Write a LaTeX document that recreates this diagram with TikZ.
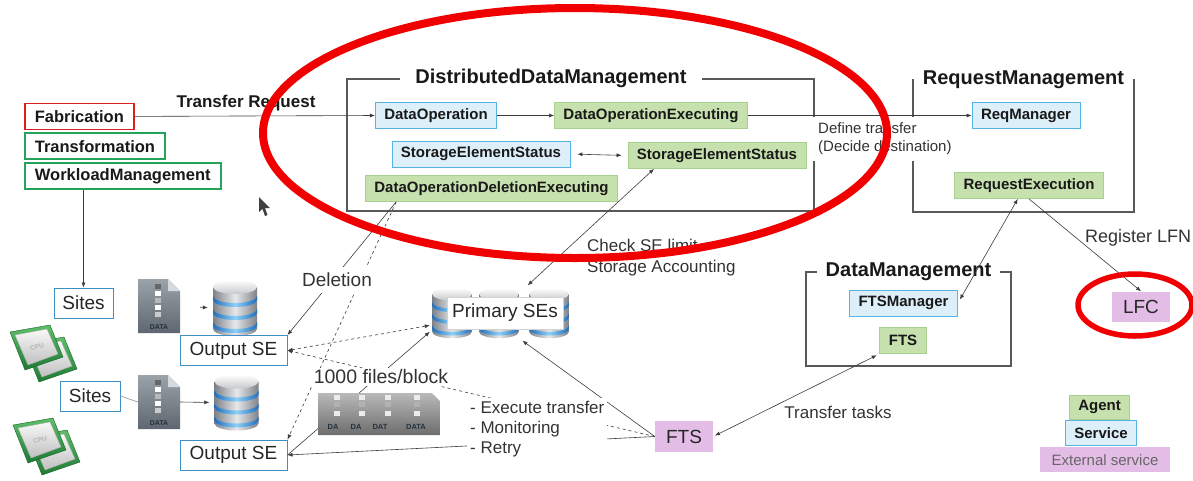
\documentclass[tikz,border=0pt]{standalone}
\usepackage{fontspec}
\setmainfont{Liberation Sans}
\usepackage{xcolor}
\usetikzlibrary{arrows.meta,positioning}

\definecolor{svcfill}{HTML}{DDEFF9}
\definecolor{svcline}{HTML}{56B4E3}
\definecolor{agfill}{HTML}{C6E0AE}
\definecolor{agline}{HTML}{A9D18E}
\definecolor{extfill}{HTML}{E3BDE6}
\definecolor{siteline}{HTML}{3F8FC6}
\definecolor{fabred}{HTML}{D82020}
\definecolor{wmsgreen}{HTML}{25A35A}
\definecolor{frameline}{HTML}{595959}
\definecolor{connline}{HTML}{3C3C3C}
\definecolor{lbltext}{HTML}{333333}
\definecolor{annotred}{HTML}{F00000}
\definecolor{filetop}{HTML}{9AA2AA}
\definecolor{filebot}{HTML}{5E666F}
\definecolor{filefold}{HTML}{D6DADE}
\definecolor{datatext}{HTML}{24313D}
\definecolor{dbedge}{HTML}{7E8288}
\definecolor{dbmid}{HTML}{E6E8EA}
\definecolor{dbblue}{HTML}{1F6FBF}
\definecolor{dbsky}{HTML}{8FD0F5}
\definecolor{cpulight}{HTML}{5FBF6A}
\definecolor{cpudark}{HTML}{1E7A34}

\begin{document}
\begin{tikzpicture}[x=1pt, y=-1pt, >={Latex[length=5pt,width=4pt]},
  svc/.style={draw=svcline, fill=svcfill, line width=0.8pt, text=black!90,
    font=\bfseries\fontsize{15}{18}\selectfont, inner xsep=9pt, inner ysep=0pt, minimum height=26pt},
  agent/.style={svc, draw=agline, fill=agfill},
  extsvc/.style={fill=extfill, text=black!85, font=\fontsize{19}{22}\selectfont,
    minimum width=58pt, minimum height=30pt},
  caller/.style={line width=1.8pt, fill=white, text=black!90, font=\bfseries\fontsize{16.5}{20}\selectfont,
    inner xsep=10pt, inner ysep=0pt, minimum height=26pt},
  sitebox/.style={draw=siteline, line width=1pt, fill=white, text=black!85,
    font=\fontsize{19}{22}\selectfont, minimum height=30pt},
  frame/.style={draw=frameline, line width=1.3pt, inner sep=0pt},
  frametitle/.style={fill=white, text=black!90, font=\bfseries\fontsize{20}{24}\selectfont,
    inner xsep=9pt, inner ysep=1pt},
  lbl/.style={text=lbltext, font=\fontsize{17}{20}\selectfont, inner sep=2pt},
  conn/.style={draw=connline, line width=0.6pt},
  datafile/.pic={
    \shade[top color=filetop, bottom color=filebot]
      (-21,-27) -- (9,-27) -- (21,-15) -- (21,27) -- (-21,27) -- cycle;
    \fill[filefold] (9,-27) -- (9,-15) -- (21,-15) -- cycle;
    \foreach \yy/\cc in {-22/gray!80!black, -15/white, -8/gray!55, -1/white, 6/gray!40}
      \fill[\cc] (-4,\yy) rectangle ++(6,5);
    \node[font=\bfseries\fontsize{7}{8}\selectfont, text=datatext] (-lbl) at (0,21) {DATA};
  },
  dbcyl/.pic={
    \shade[left color=dbedge, right color=dbedge, middle color=dbmid]
      (-22,-21) -- (-22,21) arc[start angle=180, end angle=0, x radius=22, y radius=7] -- (22,-21) -- cycle;
    \foreach \yy in {-12,1,14}
      \shade[left color=dbblue, right color=dbblue, middle color=dbsky]
        (-22,\yy) -- (-22,\yy+4) arc[start angle=180, end angle=0, x radius=22, y radius=7]
        -- (22,\yy) arc[start angle=0, end angle=180, x radius=22, y radius=7] -- cycle;
    \shade[top color=white, bottom color=dbmid!70!gray] (0,-21) ellipse[x radius=22, y radius=7];
  },
  cpuchip/.pic={
    \shade[top color=cpulight, bottom color=cpudark, draw=cpudark!80!black, line width=0.4pt]
      (-27,-14) -- (13,-21) -- (26,11) -- (-12,24) -- cycle;
    \shade[top color=gray!5, bottom color=gray!50, draw=gray!65]
      (-22,-11) -- (10,-17) -- (21,8) -- (-9,19) -- cycle;
    \node[rotate=10, font=\bfseries\fontsize{6.5}{7}\selectfont, text=gray!60] (-lbl) at (0,1) {CPU};
  }]

\useasboundingbox (0,0) rectangle (1193,480);
\fill[white] (0,0) rectangle (1193,480);

% component frames
\node[frame, minimum width=467pt, minimum height=132pt] (ddm) at (580.5,145) {};
\node[frame, minimum width=221pt, minimum height=132pt] (rm) at (1023.5,146) {};
\node[frame, minimum width=205pt, minimum height=94pt] (dm) at (908.5,319) {};
\node[frametitle, inner xsep=15pt] (ddmtitle) at ([xshift=-29.5pt]ddm.north) {DistributedDataManagement};
\node[frametitle] (rmtitle) at (rm.north) {RequestManagement};
\node[frametitle] (dmtitle) at (dm.north) {DataManagement};

% systems
\node[caller, draw=fabred, anchor=north west] (fab) at (24,102.5) {Fabrication};
\node[caller, draw=wmsgreen, below right=2pt and 0pt of fab.south west] (trans) {Transformation};
\node[caller, draw=wmsgreen, below right=2pt and 0pt of trans.south west] (wl) {WorkloadManagement};
\node[font=\bfseries\fontsize{17}{20}\selectfont, text=black!90] (treq) at (246,103) {Transfer Request};

\node[svc] (dop) at (436,115.5) {DataOperation};
\node[agent] (doe) at (651,115.5) {DataOperationExecuting};
\node[svc] (sesB) at (481,154) {StorageElementStatus};
\node[agent] (sesG) at (717,155.5) {StorageElementStatus};
\node[agent] (delex) at (491.5,188.5) {DataOperationDeletionExecuting};
\node[svc] (reqm) at (1026,115.5) {ReqManager};
\node[agent] (reqex) at (1029,185.5) {RequestExecution};
\node[svc] (ftsm) at (903.5,303) {FTSManager};
\node[agent] (ftsA) at (903,340.5) {FTS};

% sites and storage
\pic (cpuA2) at (51,358) {cpuchip};
\pic (cpuA1) at (37,346) {cpuchip};
\pic (cpuB2) at (54,451) {cpuchip};
\pic (cpuB1) at (40,439) {cpuchip};
\pic (fileAicon) at (159,306) {datafile};
\pic (fileBicon) at (159,402) {datafile};
\pic (dbAicon) at (235,308) {dbcyl};
\pic (dbBicon) at (236.5,402.5) {dbcyl};
\node[minimum width=42pt, minimum height=54pt, inner sep=0pt] (fileA) at (159,306) {};
\node[minimum width=42pt, minimum height=54pt, inner sep=0pt] (fileB) at (159,402) {};
\node[minimum width=44pt, minimum height=56pt, inner sep=0pt] (dbA) at (235,308) {};
\node[minimum width=44pt, minimum height=56pt, inner sep=0pt] (dbB) at (236.5,402.5) {};

\node[sitebox, minimum width=59pt] (sitesA) at (83.5,303) {Sites};
\node[sitebox, minimum width=60pt] (sitesB) at (90,396) {Sites};
\node[sitebox, minimum width=107pt] (outA) at (233.5,350.5) {Output SE};
\node[sitebox, minimum width=107pt] (outB) at (233.5,455) {Output SE};

\foreach \cx [count=\i] in {452,499,549}
  \pic[scale=0.9] (primcyl\i) at (\cx,313) {dbcyl};
\node[minimum width=140pt, minimum height=55pt] (primgrp) at (500,313) {};
\node[draw=gray!35, fill=white, text=black!85, font=\fontsize{19}{22}\selectfont,
  minimum height=32pt, inner xsep=5pt] (prim) at (505,313) {Primary SEs};

\node[extsvc] (lfc) at (1141,306.5) {LFC};
\node[extsvc, minimum height=31pt] (ftsx) at (684,436.5) {FTS};

% legend
\node[agent, minimum width=57pt, minimum height=24pt] (lgagent) at (1099.5,407) {Agent};
\node[svc, minimum width=70pt, minimum height=25pt, below=1pt of lgagent, xshift=1.5pt] (lgsvc) {Service};
\node[extsvc, minimum width=130pt, minimum height=25pt, text=black!60, font=\fontsize{15}{18}\selectfont,
  below=1pt of lgsvc, xshift=4pt] (lgext) {External service};

\node[lbl, fill=white, align=left, font=\fontsize{15}{18}\selectfont, anchor=west,
  inner xsep=6pt, inner ysep=6pt] (deftr) at (812,139) {Define transfer\\(Decide destination)};

% connectors
\draw[conn, ->] (fab.east) -- (dop.west);
\draw[conn, ->] (dop.east) -- (doe.west);
\draw[conn, <->, shorten <=7pt, shorten >=6pt] (sesB.east) -- (sesG.west);
\draw[conn, ->] (doe.east) -- (reqm.west);
\draw[conn, <->, shorten >=4pt] (reqex.230) -- (ftsm.east);
\draw[conn, ->] (reqex.south) -- (lfc.north);
\draw[conn, <->, shorten <=2pt, shorten >=3pt] (ftsx.east) -- (ftsA.south west);
\draw[conn, ->] (sitesA.north |- wl.south) -- (sitesA.north);
\draw[draw=gray!70, line width=0.8pt] (sitesB.east) -- (fileB.west);
\draw[conn, ->, shorten <=20pt, shorten >=5pt] (fileA.east) -- (dbA.west);
\draw[conn, ->, shorten >=5pt] (fileB.east) -- (dbB.west);
\draw[conn, ->] (delex.188) -- (outA.north east);
\draw[conn, ->, dashed] (delex.188) -- (outB.north east);
\draw[conn, <->, dashed] (outA.east) -- (primgrp.190);
\draw[conn, ->, dashed] (ftsx.west) -- (outA.east);
\draw[conn, ->] (outB.east) -- (primgrp.195);
\draw[conn, ->] (ftsx.west) -- (outB.east);
\draw[conn, ->] (ftsx.west) -- (primgrp.309);
\draw[conn, <->] (sesG.192) -- (primgrp.45);

% block of files sent together
\shade[top color=gray!55, bottom color=gray!85!black]
  (318,393) -- (432,393) -- (440,401) -- (440,435) -- (318,435) -- cycle;
\foreach \cx in {337,362,388,417} {
  \fill[white!85!gray] (\cx-3,395) rectangle ++(6,5);
  \fill[gray!60] (\cx-3,402) rectangle ++(6,5);
  \fill[white!85!gray] (\cx-3,411) rectangle ++(6,5);
}
\foreach \cx/\lab [count=\i] in {333/DA, 356/DA, 380/DAT, 416/DATA}
  \node[font=\bfseries\fontsize{7.5}{8}\selectfont, text=datatext] (blk\i) at (\cx,427) {\lab};

% labels
\node[lbl, font=\fontsize{19}{22}\selectfont, fill=white, inner ysep=6pt] (dellbl) at (337,280) {Deletion};
\node[lbl, font=\fontsize{19.5}{22}\selectfont, fill=white] (blocklbl) at (381,377) {1000 files/block};
\node[lbl, fill=white, align=left, anchor=west, inner sep=3pt] (ftsjobs) at (467,429)
  {- Execute transfer\\- Monitoring\\- Retry};
\node[lbl, font=\fontsize{17}{21}\selectfont, align=left, anchor=west] (selbl) at (585,258)
  {Check SE limit\\Storage Accounting};
\node[lbl, font=\fontsize{18}{22}\selectfont, anchor=west] (reglbl) at (1083,238) {Register LFN};
\node[lbl] (tasklbl) at (838,412.5) {Transfer tasks};

% pointer
\fill[black!75] (259,197) -- (259,212) -- (262.5,209) -- (265,216) -- (267.5,215) -- (265,208) -- (270,208) -- cycle;

% highlights
\draw[annotred, line width=8pt] (575,133) ellipse [x radius=312, y radius=125];
\draw[annotred, line width=5.5pt] (1135,305) ellipse [x radius=57, y radius=31];
\end{tikzpicture}
\end{document}
